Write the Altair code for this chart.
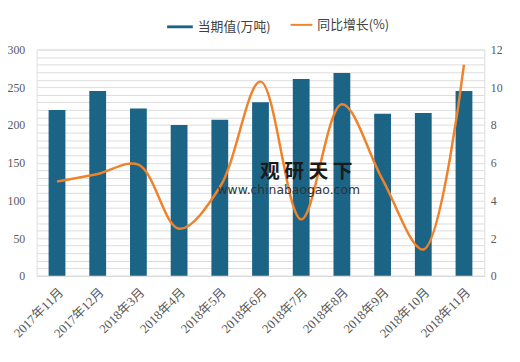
import altair as alt
import pandas as pd

months = ["2017年11月", "2017年12月", "2018年3月", "2018年4月", "2018年5月", "2018年6月",
          "2018年7月", "2018年8月", "2018年9月", "2018年10月", "2018年11月"]
values = [220, 245, 222, 200, 207, 230, 261, 269, 215, 216, 245]
growth = [5.0, 5.4, 5.9, 2.5, 4.7, 10.3, 3.0, 9.1, 5.1, 1.4, 11.2]

df = pd.DataFrame({"month": months, "value": values, "growth": growth,
                   "s1": "当期值(万吨)", "s2": "同比增长(%)"})

font = "Liberation Serif, Noto Sans CJK SC"
x = alt.X("month:N", sort=months, title=None,
          axis=alt.Axis(labelAngle=-45, labelAlign="right", labelBaseline="top",
                        labelFontSize=13, labelColor="#595959", ticks=False,
                        domainColor="#d9d9d9", labelPadding=10, labelFont=font),
          scale=alt.Scale(paddingInner=0.5, paddingOuter=0.25))

bars = alt.Chart(df).mark_bar(size=17, color="#1b6486").encode(
    x=x,
    y=alt.Y("value:Q", title=None, scale=alt.Scale(domain=[0, 300]),
            axis=alt.Axis(values=list(range(0, 301, 10)), ticks=False, domain=False,
                          labelExpr="datum.value % 50 == 0 ? datum.label : ''",
                          labelFontSize=12, labelColor="#595959", labelFont=font,
                          grid=True, gridColor="#dcdcdc", gridOpacity=1, labelPadding=12)),
    color=alt.Color("s1:N", scale=alt.Scale(range=["#1b6486"]),
                    legend=alt.Legend(title=None, orient="none", legendX=131, legendY=-37,
                                      symbolType="M-1,-0.11L1,-0.11L1,0.11L-1,0.11Z",
                                      symbolSize=676, labelFontSize=13,
                                      labelColor="#404040", labelFont="Noto Sans CJK SC")),
)

line = alt.Chart(df).mark_line(strokeWidth=2.5, interpolate="catmull-rom").encode(
    x=x,
    y=alt.Y("growth:Q", title=None, scale=alt.Scale(domain=[0, 12]),
            axis=alt.Axis(orient="right", values=list(range(0, 13, 2)), ticks=False,
                          domain=False, labelFontSize=12, labelColor="#595959",
                          labelFont=font, grid=False, labelPadding=6)),
    stroke=alt.Stroke("s2:N", scale=alt.Scale(range=["#f0832a"]),
                      legend=alt.Legend(title=None, orient="none", legendX=256, legendY=-37,
                                        symbolType="stroke", symbolStrokeWidth=2,
                                        symbolSize=484, labelFontSize=13,
                                        labelColor="#404040", labelFont="Noto Sans CJK SC")),
)

wm1 = alt.Chart(pd.DataFrame({"t": ["观 研 天 下"]})).mark_text(
    fontSize=20, fontWeight="bold", color="#1a1a1a", align="left", baseline="middle",
    font="Noto Sans CJK SC"
).encode(text="t:N", x=alt.value(226), y=alt.value(124))
wm2 = alt.Chart(pd.DataFrame({"t": ["www.chinabaogao.com"]})).mark_text(
    fontSize=12.5, color="#333333", align="left", baseline="middle", font="DejaVu Sans"
).encode(text="t:N", x=alt.value(183), y=alt.value(142))

chart = alt.layer(bars, line, wm1, wm2).resolve_scale(y="independent", color="independent").properties(
    width=453, height=229,
    autosize=alt.AutoSizeParams(type="none"),
    padding={"left": 29, "top": 40, "right": 28, "bottom": 75}
).configure_view(fill="#f2f2f2", stroke=None).configure(background="white")

chart.save("out.html", embed_options={"renderer": "svg", "actions": False})
